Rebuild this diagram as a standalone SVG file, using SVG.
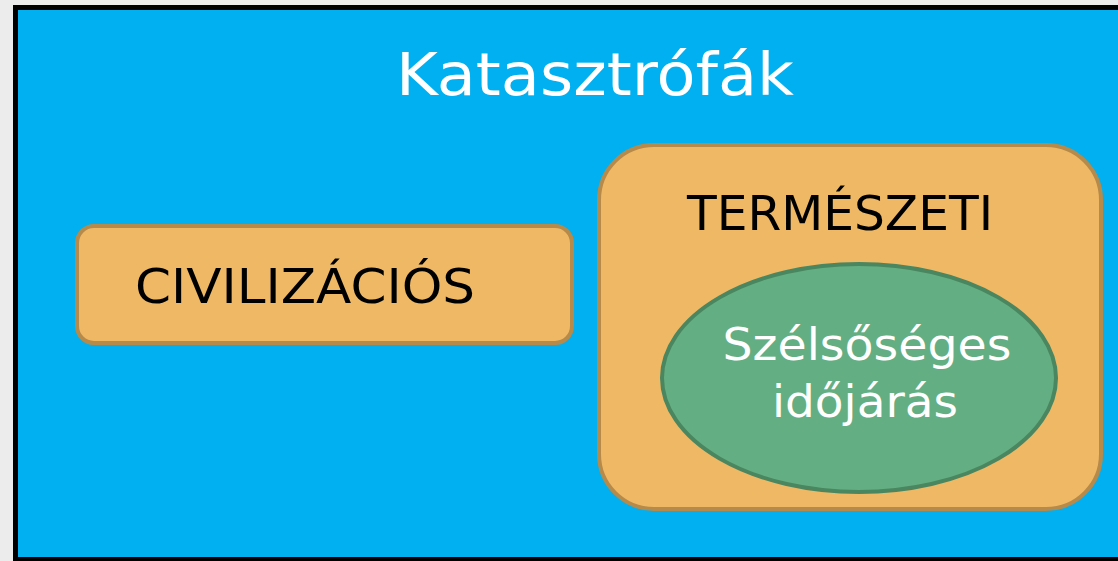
<svg xmlns="http://www.w3.org/2000/svg" width="1118" height="561" viewBox="0 0 1118 561">
<style>
.box{fill:#EEB865;stroke:#B58A4A;stroke-width:4}
.ell{fill:#63AE82;stroke:#4A8660;stroke-width:4}
.t{font-family:"DejaVu Sans","Verdana",sans-serif;text-anchor:middle}
.w{fill:#FFFFFF}
.k{fill:#000000}
</style>
<rect x="0" y="0" width="1118" height="561" fill="#ECECEC"/>
<g id="frame">
<rect x="15.5" y="7.5" width="1115" height="552" fill="#00B0F0" stroke="#000000" stroke-width="5"/>
<text class="t w" x="595" y="95" font-size="59" textLength="398" lengthAdjust="spacingAndGlyphs">Katasztrófák</text>
</g>
<g id="civilizacios">
<rect class="box" x="77" y="226" width="495" height="117" rx="17"/>
<text class="t k" x="305" y="303" font-size="48" textLength="340" lengthAdjust="spacingAndGlyphs">CIVILIZÁCIÓS</text>
</g>
<g id="termeszeti">
<rect class="box" x="599" y="145" width="502" height="364" rx="55"/>
<text class="t k" x="840" y="230" font-size="48" textLength="306" lengthAdjust="spacingAndGlyphs">TERMÉSZETI</text>
</g>
<g id="szelsoseges">
<ellipse class="ell" cx="859" cy="378" rx="197" ry="114"/>
<text class="t w" x="867" y="360" font-size="45" textLength="289" lengthAdjust="spacingAndGlyphs">Szélsőséges</text>
<text class="t w" x="865" y="417" font-size="45" textLength="186" lengthAdjust="spacingAndGlyphs">időjárás</text>
</g>
<g id="connectors"></g>
</svg>
